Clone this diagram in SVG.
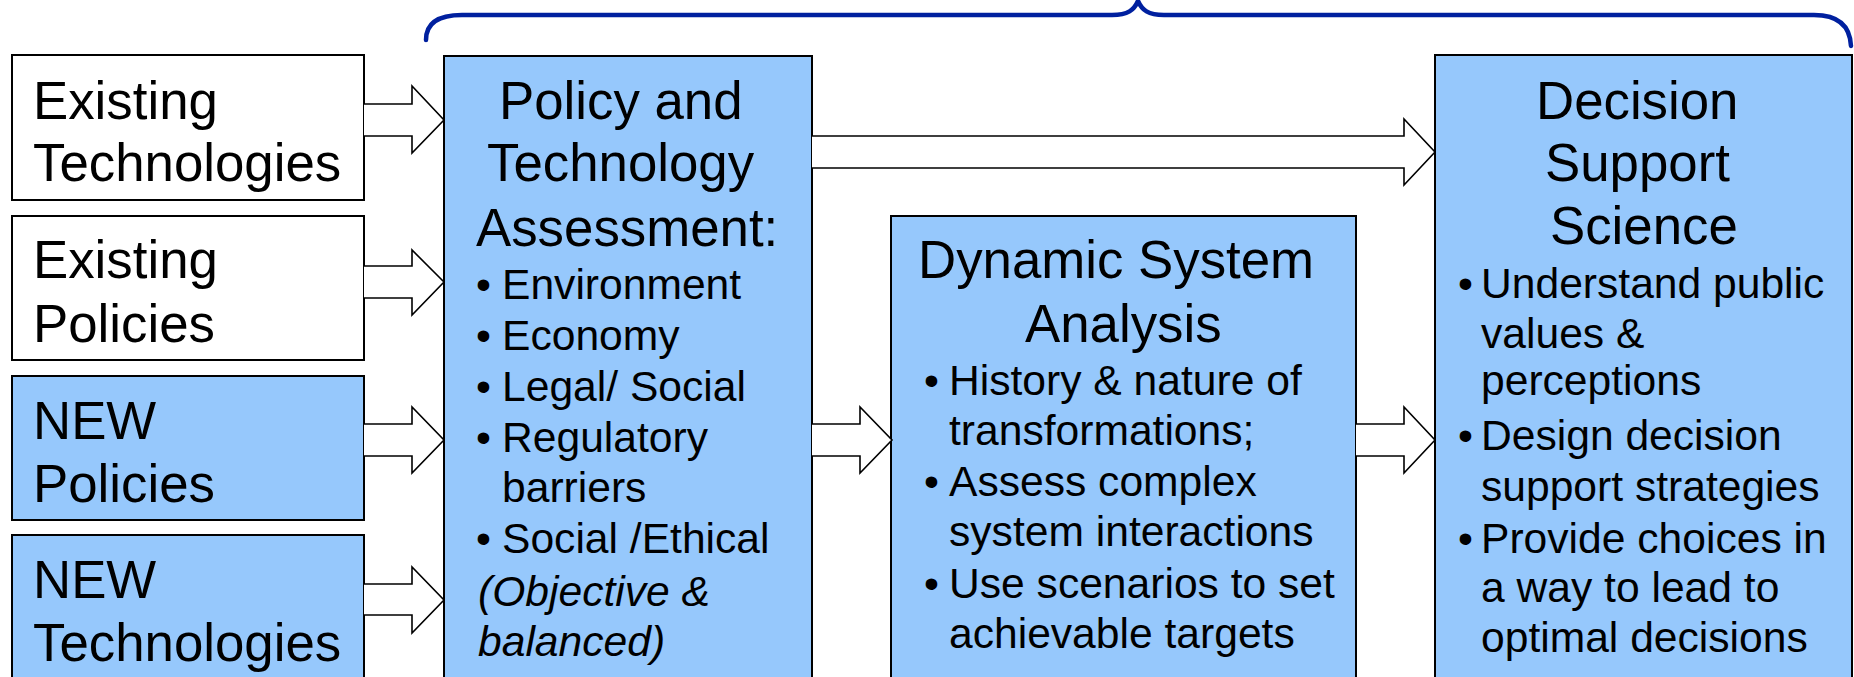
<svg xmlns="http://www.w3.org/2000/svg" width="1854" height="677" viewBox="0 0 1854 677">
<style>
.box{stroke:#000;stroke-width:2}
.white{fill:#fff}
.blue{fill:#96C8FC}
.arrow{fill:#fff;stroke:#000;stroke-width:1.6;stroke-linejoin:miter}
.t{font-family:"Liberation Sans",Arial,sans-serif;fill:#000}
.title{font-size:52.8px}
.item{font-size:42.6px}
.it{font-style:italic}
.brace{fill:none;stroke:#00209F;stroke-width:4.5;stroke-linecap:round}
</style>
<rect width="1854" height="677" fill="#fff"/>
<path class="brace" d="M426,40 C426,22 440,15 462,15 L1112,15 C1128,15 1134,10 1138,1 C1142,10 1148,15 1164,15 L1814,15 C1836,15 1850,24 1851,46"/>
<g id="existing-technologies">
<rect class="box white" x="12" y="55" width="352" height="145"/>
<text class="t title" x="33" y="119">Existing</text>
<text class="t title" x="33" y="181">Technologies</text>
</g>
<g id="existing-policies">
<rect class="box white" x="12" y="216" width="352" height="144"/>
<text class="t title" x="33" y="278">Existing</text>
<text class="t title" x="33" y="342">Policies</text>
</g>
<g id="new-policies">
<rect class="box blue" x="12" y="376" width="352" height="144"/>
<text class="t title" x="33" y="439">NEW</text>
<text class="t title" x="33" y="502">Policies</text>
</g>
<g id="new-technologies">
<rect class="box blue" x="12" y="535" width="352" height="170"/>
<text class="t title" x="33" y="598">NEW</text>
<text class="t title" x="33" y="661">Technologies</text>
</g>
<g id="policy-technology-assessment">
<rect class="box blue" x="444" y="56" width="368" height="650"/>
<text class="t title" x="499" y="119">Policy and</text>
<text class="t title" x="487" y="181">Technology</text>
<text class="t title" x="476" y="246">Assessment:</text>
<g class="t item">
<text x="476" y="299">•</text><text x="502" y="299">Environment</text>
<text x="476" y="350">•</text><text x="502" y="350">Economy</text>
<text x="476" y="401">•</text><text x="502" y="401">Legal/ Social</text>
<text x="476" y="452">•</text><text x="502" y="452">Regulatory</text>
<text x="502" y="502">barriers</text>
<text x="476" y="553">•</text><text x="502" y="553">Social /Ethical</text>
<text class="it" x="478" y="606">(Objective &amp;</text>
<text class="it" x="478" y="656">balanced)</text>
</g>
</g>
<g id="dynamic-system-analysis">
<rect class="box blue" x="891" y="216" width="465" height="490"/>
<text class="t title" x="918" y="278">Dynamic System</text>
<text class="t title" x="1025" y="342">Analysis</text>
<g class="t item">
<text x="924" y="395">•</text><text x="949" y="395">History &amp; nature of</text>
<text x="949" y="445">transformations;</text>
<text x="924" y="496">•</text><text x="949" y="496">Assess complex</text>
<text x="949" y="546">system interactions</text>
<text x="924" y="598">•</text><text x="949" y="598">Use scenarios to set</text>
<text x="949" y="648">achievable targets</text>
</g>
</g>
<g id="decision-support-science">
<rect class="box blue" x="1435" y="55" width="417" height="650"/>
<text class="t title" x="1536" y="119">Decision</text>
<text class="t title" x="1545" y="181">Support</text>
<text class="t title" x="1550" y="244">Science</text>
<g class="t item">
<text x="1458" y="298">•</text><text x="1481" y="298">Understand public</text>
<text x="1481" y="348">values &amp;</text>
<text x="1481" y="395">perceptions</text>
<text x="1458" y="450">•</text><text x="1481" y="450">Design decision</text>
<text x="1481" y="501">support strategies</text>
<text x="1458" y="553">•</text><text x="1481" y="553">Provide choices in</text>
<text x="1481" y="602">a way to lead to</text>
<text x="1481" y="652">optimal decisions</text>
</g>
</g>
<g id="connectors">
<polyline class="arrow" points="364,104 412,104 412,86 444,120 412,153 412,136 364,136"/>
<polyline class="arrow" points="364,266 412,266 412,250 444,282 412,315 412,298 364,298"/>
<polyline class="arrow" points="364,424 412,424 412,407 444,440 412,473 412,456 364,456"/>
<polyline class="arrow" points="364,584 412,584 412,567 444,600 412,633 412,615 364,615"/>
<polyline class="arrow" points="812,136 1404,136 1404,119 1435,152 1404,185 1404,168 812,168"/>
<polyline class="arrow" points="812,424 860,424 860,407 892,440 860,473 860,456 812,456"/>
<polyline class="arrow" points="1356,424 1404,424 1404,407 1435,440 1404,473 1404,456 1356,456"/>
</g>
</svg>
